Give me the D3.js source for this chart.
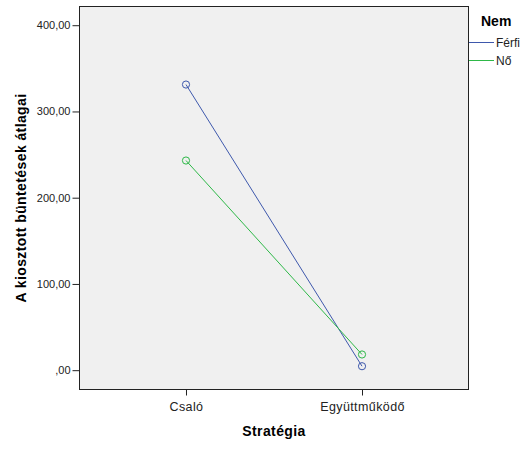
<!DOCTYPE html>
<html>
<head>
<meta charset="utf-8">
<script src="https://cdn.jsdelivr.net/npm/d3@7"></script>
<style>
  body { margin: 0; background: #fff; }
  svg { display: block; font-family: "Liberation Sans", Arial, sans-serif; }
</style>
</head>
<body>
<svg id="chart" width="529" height="454"></svg>
<script>
// categories on the x axis
var strategies = ["Csaló", "Együttműködő"];
// series (Nem)
var groups = ["Férfi", "Nő"];
var ferfiValues = [331.2, 4.6];
var noValues = [243.1, 18.2];
var yTicks = [0, 100, 200, 300, 400];

var colors = { "Férfi": "#3e58ac", "Nő": "#2eb848" };

var svg = d3.select("#chart");

var plotLeft = 79.5, plotRight = 468.5, plotTop = 6.5, plotBottom = 389.5;

var x = d3.scalePoint()
  .domain(strategies)
  .range([plotLeft, plotRight])
  .padding(0.605);

var y = d3.scaleLinear()
  .domain([-22.4, 421.7])
  .range([plotBottom, plotTop]);

// plot background and frame
svg.append("rect")
  .attr("x", plotLeft)
  .attr("y", plotTop)
  .attr("width", plotRight - plotLeft)
  .attr("height", plotBottom - plotTop)
  .attr("fill", "#f0f0f0")
  .attr("stroke", "#222")
  .attr("stroke-width", 1);

// y axis
var fmt = function(d) {
  return d === 0 ? ",00" : d3.format(".2f")(d).replace(".", ",");
};
var yAxis = svg.append("g")
  .attr("transform", "translate(" + plotLeft + ",0)")
  .call(d3.axisLeft(y).tickValues(yTicks).tickFormat(fmt).tickSize(7).tickPadding(2));
yAxis.select(".domain").remove();
yAxis.selectAll("line").attr("stroke", "#222");
yAxis.selectAll("text")
  .attr("font-size", 11)
  .attr("font-family", "Liberation Sans, Arial, sans-serif")
  .attr("fill", "#222");

// x axis
var xAxis = svg.append("g")
  .attr("transform", "translate(0," + plotBottom + ")")
  .call(d3.axisBottom(x).tickSize(6).tickPadding(7));
xAxis.select(".domain").remove();
xAxis.selectAll("line").attr("stroke", "#222");
xAxis.selectAll("text")
  .attr("font-size", 12.5)
  .attr("font-family", "Liberation Sans, Arial, sans-serif")
  .attr("letter-spacing", 0.4)
  .attr("fill", "#222");

// axis titles
svg.append("text")
  .attr("x", (plotLeft + plotRight) / 2)
  .attr("y", 436)
  .attr("text-anchor", "middle")
  .attr("font-size", 14)
  .attr("font-weight", "bold")
  .attr("letter-spacing", 0.4)
  .text("Stratégia");

svg.append("text")
  .attr("transform", "translate(26," + ((plotTop + plotBottom) / 2) + ") rotate(-90)")
  .attr("text-anchor", "middle")
  .attr("font-size", 14)
  .attr("font-weight", "bold")
  .attr("letter-spacing", 0.4)
  .text("A kiosztott büntetések átlagai");

// lines and markers
var series = [
  { name: "Férfi", values: ferfiValues },
  { name: "Nő", values: noValues }
];

var line = d3.line()
  .x(function(d, i) { return x(strategies[i]); })
  .y(function(d) { return y(d); });

series.forEach(function(s) {
  svg.append("path")
    .attr("d", line(s.values))
    .attr("fill", "none")
    .attr("stroke", colors[s.name])
    .attr("stroke-width", 1);

  svg.selectAll(null)
    .data(s.values)
    .enter().append("circle")
    .attr("cx", function(d, i) { return x(strategies[i]); })
    .attr("cy", function(d) { return y(d); })
    .attr("r", 3.6)
    .attr("fill", "none")
    .attr("stroke", colors[s.name])
    .attr("stroke-width", 1);
});

// legend
svg.append("text")
  .attr("x", 481)
  .attr("y", 26)
  .attr("font-size", 14)
  .attr("font-weight", "bold")
  .text("Nem");

var legend = svg.selectAll("g.legend")
  .data(groups)
  .enter().append("g")
  .attr("class", "legend")
  .attr("transform", function(d, i) { return "translate(469," + (42.5 + i * 18) + ")"; });

legend.append("line")
  .attr("x1", 0)
  .attr("x2", 25)
  .attr("stroke", function(d) { return colors[d]; })
  .attr("stroke-width", 1);

legend.append("text")
  .attr("x", 27)
  .attr("dy", "0.35em")
  .attr("font-size", 12)
  .attr("fill", "#222")
  .text(function(d) { return d; });
</script>
</body>
</html>
